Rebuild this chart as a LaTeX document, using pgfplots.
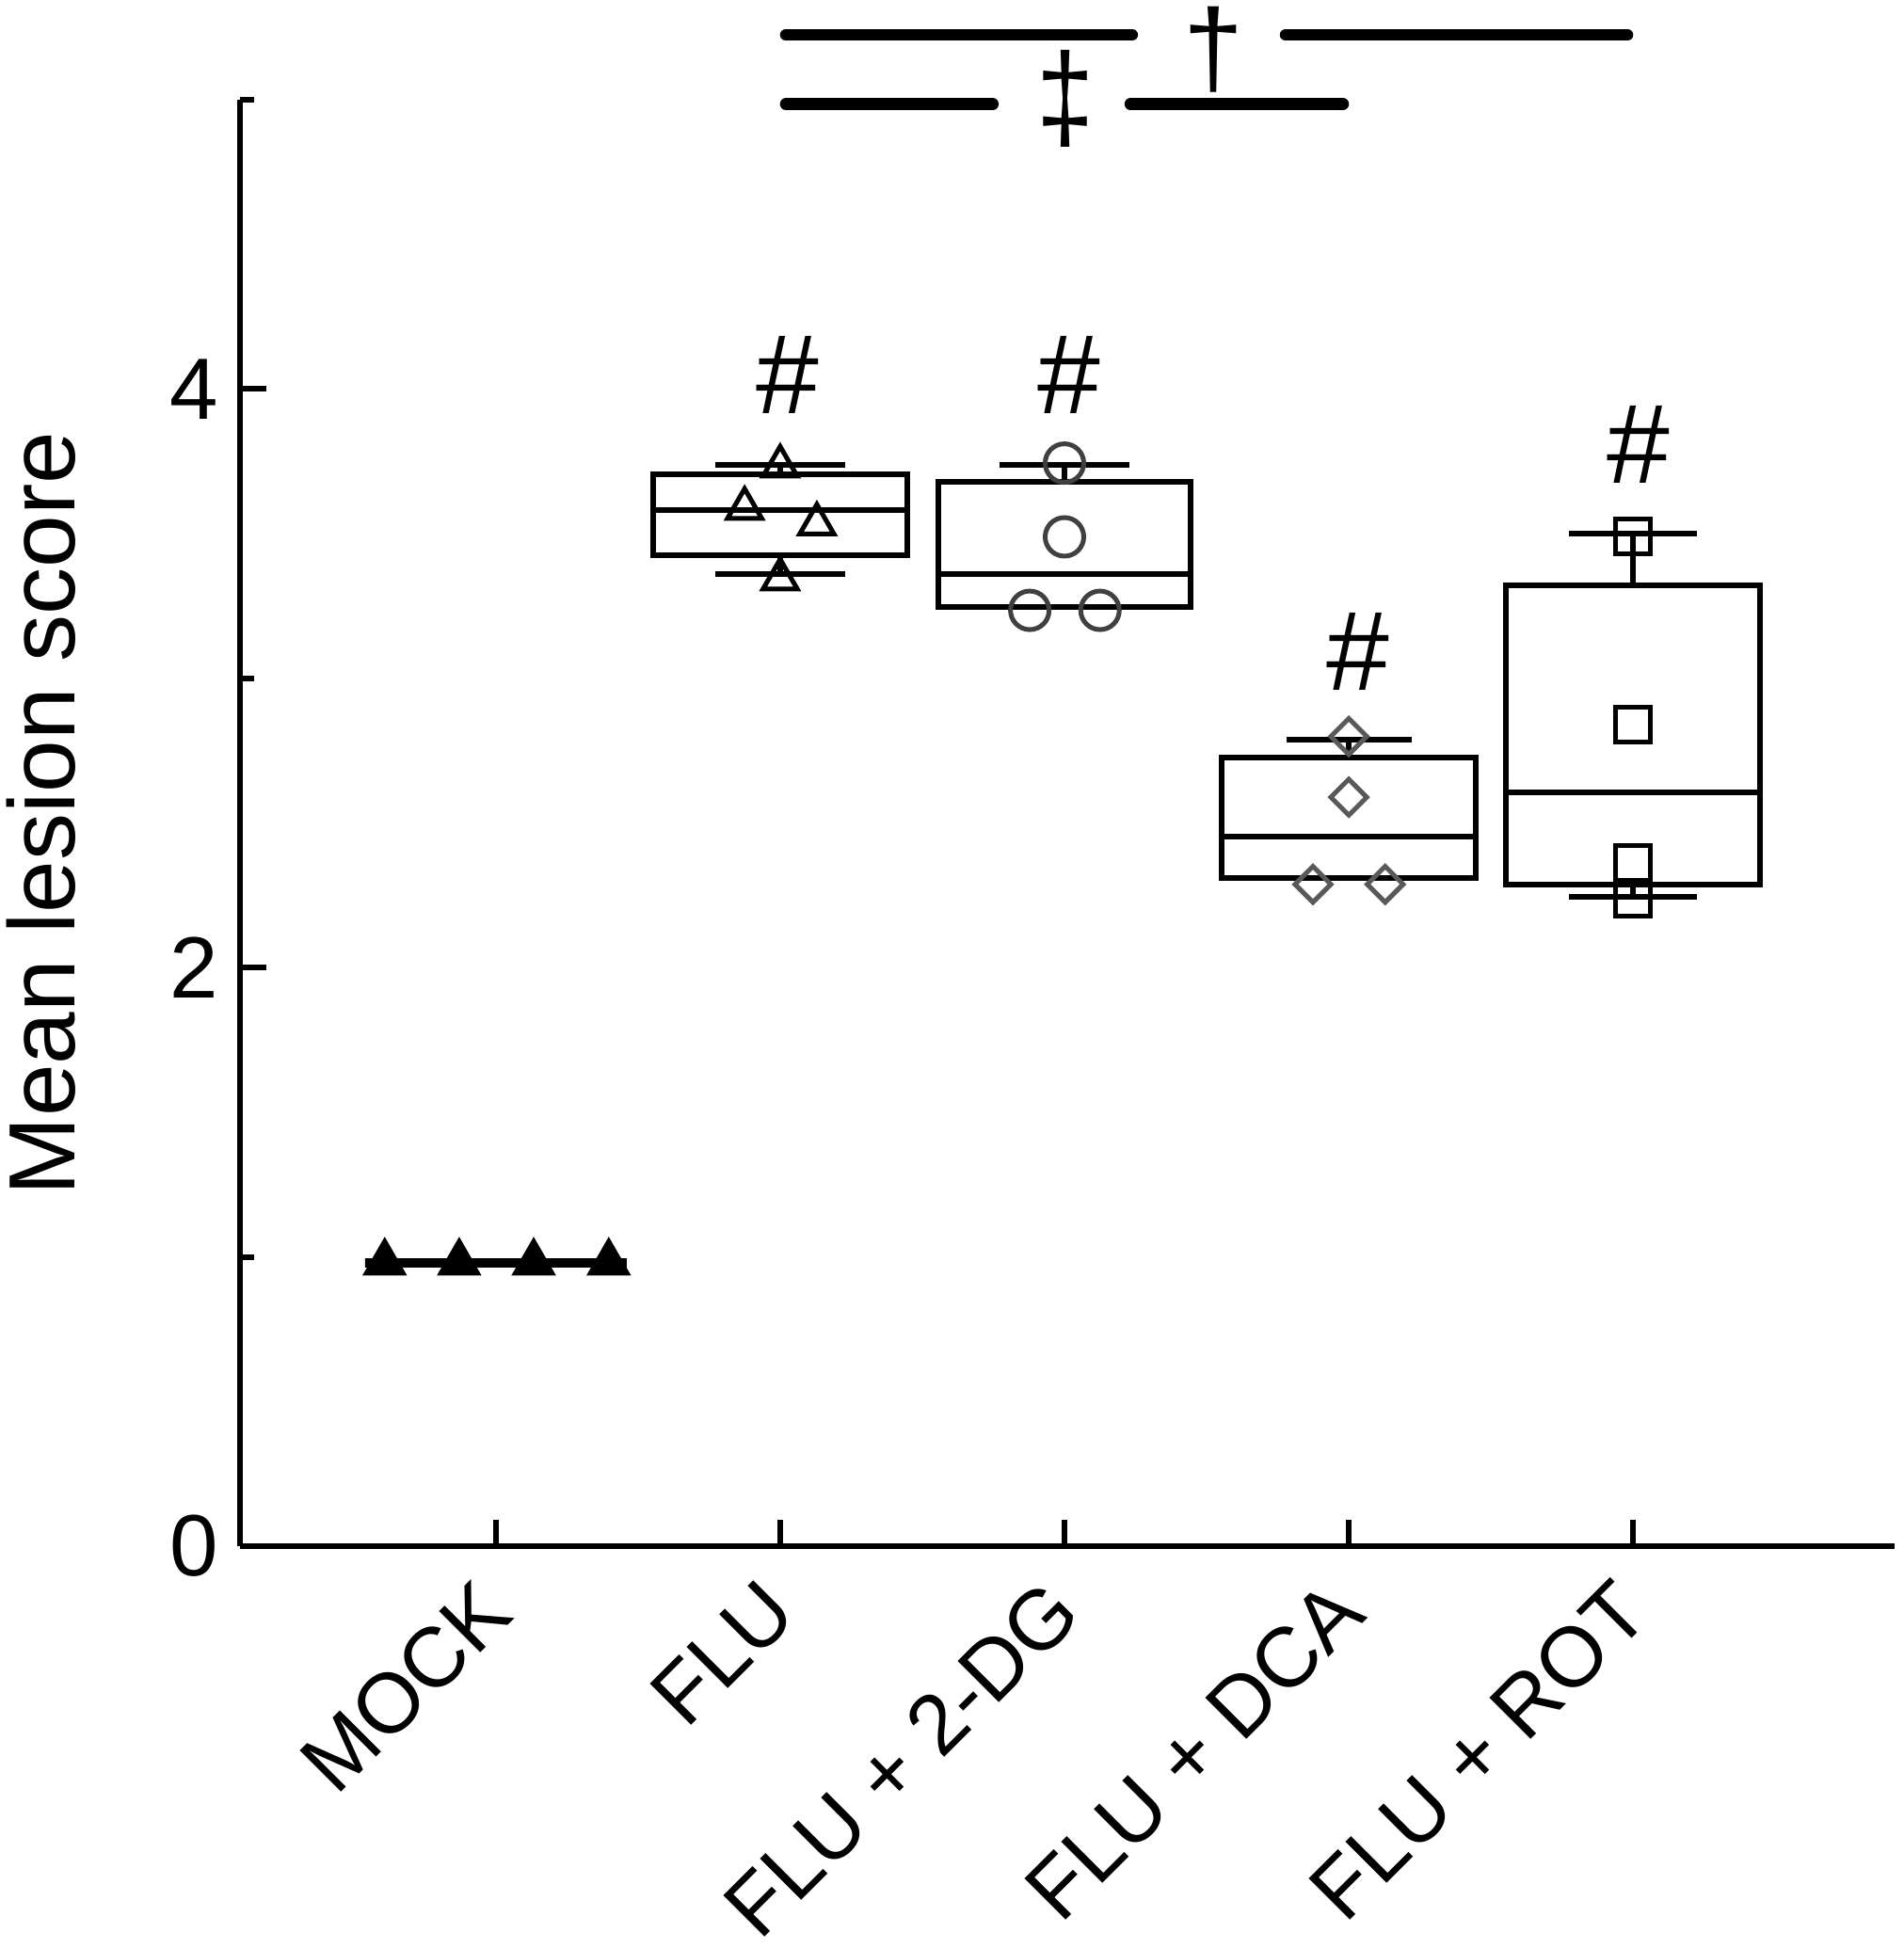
\documentclass[border=0pt]{standalone}
\usepackage{fontspec}
\setmainfont{Liberation Sans}
\usepackage{pgfplots}
\pgfplotsset{compat=1.18}
\usepgfplotslibrary{statistics}

\begin{document}
\begin{tikzpicture}
\useasboundingbox (-51pt,-85.4pt) rectangle (353.4pt,328.6pt);
\begin{axis}[
    at={(0,0)}, anchor=south west,
    scale only axis,
    width=351.6pt, height=307.4pt,
    xmin=0.1, xmax=5.92, ymin=0, ymax=5,
    axis lines*=left,
    axis line style={-, line width=1.3pt},
    clip=false,
    tick align=inside,
    xtick={1,2,3,4,5},
    xticklabels={MOCK, FLU, FLU + 2-DG, FLU + DCA, FLU + ROT},
    ytick={0,2,4},
    minor ytick={1,3,5},
    major tick length=5.5pt,
    minor tick length=3pt,
    tick style={black, line width=1.2pt},
    xticklabel style={font=\fontsize{18}{20}\selectfont, rotate=45, anchor=east, inner sep=0pt},
    xticklabel shift=10.6pt,
    yticklabel style={font=\fontsize{18.5}{20}\selectfont, inner sep=0pt, xshift=-4.4pt},
    /pgf/number format/assume math mode=true,
    ylabel={Mean lesion score},
    ylabel style={font=\fontsize{20}{22}\selectfont, at={(axis description cs:-0.1001,0.5065)}, anchor=base},
    boxplot/draw direction=y,
]

% boxes
\addplot[black, line width=2pt, boxplot prepared={draw position=1,
    lower whisker=0.98, lower quartile=0.98, median=0.98,
    upper quartile=0.98, upper whisker=0.98,
    box extend=0.92, whisker extend=0}] coordinates {};
\addplot[black, line width=1.2pt, boxplot prepared={draw position=2,
    lower whisker=3.362, lower quartile=3.424, median=3.581,
    upper quartile=3.706, upper whisker=3.739,
    box extend=0.895, whisker extend=0.457}] coordinates {};
\addplot[black, line width=1.2pt, boxplot prepared={draw position=3,
    lower whisker=3.246, lower quartile=3.246, median=3.362,
    upper quartile=3.679, upper whisker=3.739,
    box extend=0.885, whisker extend=0.46}] coordinates {};
\addplot[black, line width=1.2pt, boxplot prepared={draw position=4,
    lower whisker=2.310, lower quartile=2.310, median=2.452,
    upper quartile=2.726, upper whisker=2.787,
    box extend=0.896, whisker extend=0.44}] coordinates {};
\addplot[black, line width=1.2pt, boxplot prepared={draw position=5,
    lower whisker=2.246, lower quartile=2.287, median=2.605,
    upper quartile=3.323, upper whisker=3.501,
    box extend=0.895, whisker extend=0.45}] coordinates {};

% individual animals
\addplot[only marks, black, mark=triangle*, mark size=4.5pt, line width=1pt]
    coordinates {(0.609,0.98) (0.871,0.98) (1.133,0.98) (1.397,0.98)};
\addplot[only marks, black, mark=triangle, mark size=4.2pt, line width=1pt]
    coordinates {(2,3.733) (1.875,3.587) (2.129,3.533) (2,3.343)};
\addplot[only marks, black!75, mark=o, mark size=4.1pt, line width=1pt]
    coordinates {(3,3.744) (3,3.489) (2.878,3.235) (3.125,3.235)};
\addplot[only marks, black!65, mark=square, mark size=2.7pt, line width=1pt, mark options={rotate=45}]
    coordinates {(4,2.799) (4,2.589) (3.874,2.288) (4.128,2.288)};
\addplot[only marks, black, mark=square, mark size=3.7pt, line width=1pt]
    coordinates {(5,3.489) (5,2.841) (5,2.362) (5,2.238)};

% significance bars
\addplot[black, line width=2.5pt, line cap=round] coordinates {(2.02,5.224) (3.238,5.224)};
\addplot[black, line width=2.5pt, line cap=round] coordinates {(3.778,5.224) (4.98,5.224)};
\addplot[black, line width=2.5pt, line cap=round] coordinates {(2.02,4.985) (2.748,4.985)};
\addplot[black, line width=2.5pt, line cap=round] coordinates {(3.232,4.985) (3.98,4.985)};

\node[font=\fontsize{23}{25}\selectfont] at (axis cs:3.524,5.172) {†};
\node[font=\fontsize{22}{24}\selectfont, yscale=1.18] at (axis cs:3.002,5.005) {‡};

\node[font=\fontsize{24}{26}\selectfont] at (axis cs:2.026,4.048) {\#};
\node[font=\fontsize{24}{26}\selectfont] at (axis cs:3.017,4.048) {\#};
\node[font=\fontsize{24}{26}\selectfont] at (axis cs:4.032,3.093) {\#};
\node[font=\fontsize{24}{26}\selectfont] at (axis cs:5.019,3.809) {\#};
\end{axis}
\end{tikzpicture}
\end{document}
